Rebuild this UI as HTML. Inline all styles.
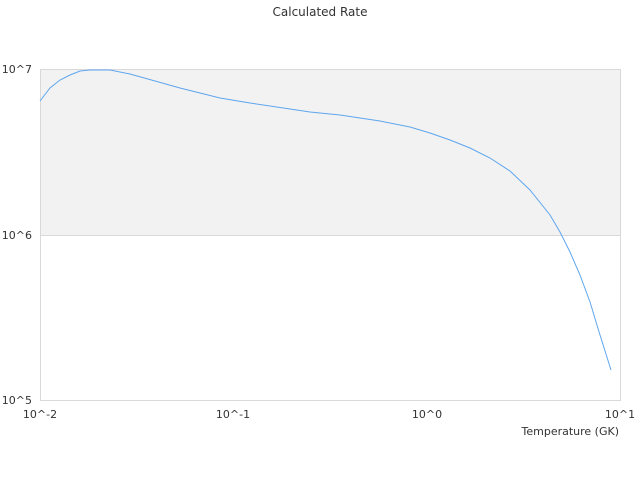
<!DOCTYPE html>
<html><head><style>body{margin:0;background:#fff}svg{display:block}</style></head><body>
<svg width="640" height="480" xmlns="http://www.w3.org/2000/svg" font-family="DejaVu Sans, sans-serif" font-size="11" fill="#333">
<rect x="40.5" y="69.5" width="580" height="166" fill="#f2f2f2"/>
<rect x="40.5" y="69.5" width="580" height="331" fill="none" stroke="#d9d9d9"/>
<line x1="40" y1="235.5" x2="620" y2="235.5" stroke="#d9d9d9"/>
<text x="320" y="16" text-anchor="middle" font-size="12">Calculated Rate</text>
<text x="32" y="73" text-anchor="end">10^7</text>
<text x="32" y="239" text-anchor="end">10^6</text>
<text x="32" y="404" text-anchor="end">10^5</text>
<text x="40" y="418" text-anchor="middle">10^-2</text>
<text x="233" y="418" text-anchor="middle">10^-1</text>
<text x="427" y="418" text-anchor="middle">10^0</text>
<text x="620" y="418" text-anchor="middle">10^1</text>
<text x="619" y="435" text-anchor="end">Temperature (GK)</text>
<polyline fill="none" stroke="#5ea6ee" stroke-width="1" points="40,101 50,88 60,80 70,75 80,71 90,70 110,70 130,74 155,81 180,88 200,93 220,98 250,103 290,109 310,112 340,115 360,118 380,121 410,127 430,133 450,140 470,148 490,158 510,171 530,190 550,215 560,232 570,252 580,275 590,302 600,335 611,370"/>
</svg>
</body></html>
